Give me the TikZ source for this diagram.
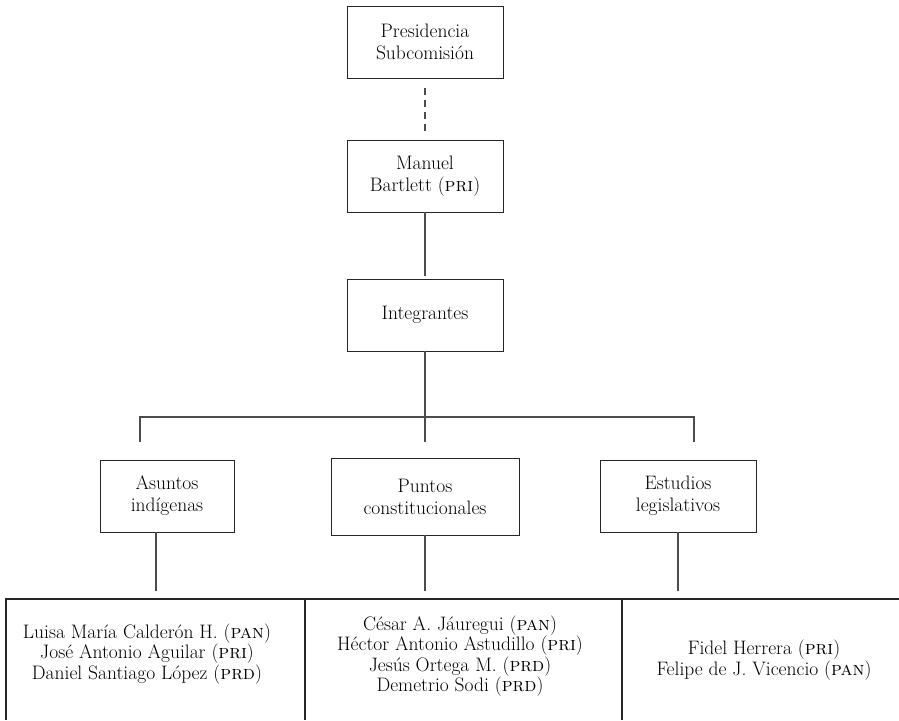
\documentclass[tikz,border=0pt]{standalone}
\usetikzlibrary{calc}
\begin{document}
\begin{tikzpicture}[x=1pt,y=-1pt,
  box/.style={draw=black!85,line width=0.9pt,align=center,inner sep=0pt,
    font=\fontsize{19.5}{22}\selectfont},
  cell/.style={align=center,inner sep=0pt,font=\fontsize{19.5}{17.8}\selectfont},
  link/.style={draw=black!70,line width=1.1pt},
  rule/.style={draw=black!85,line width=1.1pt}]
\useasboundingbox (0,0) rectangle (899,720);

% upper chain
\node[box,minimum width=156,minimum height=72] (pres) at (425,42) {Presidencia\\Subcomisión};
\node[box,minimum width=156,minimum height=72] (bart) at (425,176) {Manuel\\Bartlett (\textsc{pri})};
\node[box,minimum width=156,minimum height=72] (integ) at (425,315) {Integrantes};

\draw[link,dash pattern=on 6.5pt off 5.5pt,shorten <=10pt,shorten >=8pt] (pres.south) -- (bart.north);
\draw[link,shorten >=3pt] (bart.south) -- (integ.north);

% branch bar
\coordinate (bar) at (425,417);
\coordinate (barL) at (140,417);
\coordinate (barR) at (694,417);
\coordinate (dropL) at (140,442);
\coordinate (dropC) at (425,442);
\coordinate (dropR) at (694,442);
\draw[link] (integ.south) -- (bar);
\draw[link] (dropL) -- (barL) -- (barR) -- (dropR);
\draw[link] (bar) -- (dropC);

% subcommissions
\node[box,minimum width=134,minimum height=72] (asun) at (167,496) {Asuntos\\indígenas};
\node[box,minimum width=188,minimum height=77] (punt) at (425,496.5) {Puntos\\constitucionales};
\node[box,minimum width=156,minimum height=72] (estu) at (678,496) {Estudios\\legislativos};

\coordinate (endA) at (156,591);
\coordinate (endP) at (425,591);
\coordinate (endE) at (678,591);
\draw[link] (asun.south -| endA) -- (endA);
\draw[link] (punt.south) -- (endP);
\draw[link] (estu.south) -- (endE);

% member table
\draw[rule] (6,720) -- (6,599) -- (899,599);
\draw[rule] (305,599) -- (305,720);
\draw[rule] (622,599) -- (622,720);

\node[cell] (memA) at (147,654) {Luisa María Calderón H. (\textsc{pan})\\José Antonio Aguilar (\textsc{pri})\\Daniel Santiago López (\textsc{prd})};
\node[cell] (memP) at (460,656) {César A. Jáuregui (\textsc{pan})\\Héctor Antonio Astudillo (\textsc{pri})\\Jesús Ortega M. (\textsc{prd})\\Demetrio Sodi (\textsc{prd})};
\node[cell] (memE) at (764,660) {Fidel Herrera (\textsc{pri})\\Felipe de J. Vicencio (\textsc{pan})};
\end{tikzpicture}
\end{document}
